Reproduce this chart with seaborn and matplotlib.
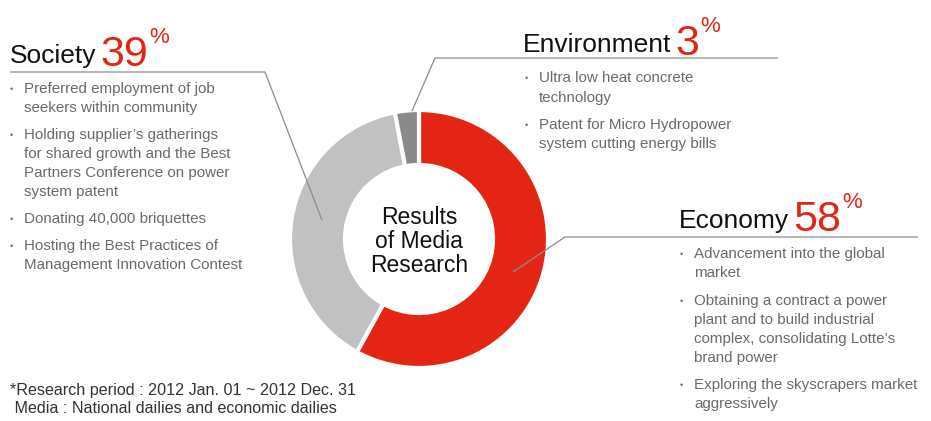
import matplotlib
matplotlib.use("Agg")
import matplotlib.pyplot as plt
import seaborn as sns

# --- data -------------------------------------------------------------
categories = ["Economy", "Society", "Environment"]
shares = [58, 39, 3]
wedge_colors = ["#e42515", "#c1c1c1", "#8a8a8a"]

center_label = ["Results", "of Media", "Research"]

society_items = [
    ["Preferred employment of job", "seekers within community"],
    ["Holding supplier\u2019s gatherings", "for shared growth and the Best",
     "Partners Conference on power", "system patent"],
    ["Donating 40,000 briquettes"],
    ["Hosting the Best Practices of", "Management Innovation Contest"],
]
environment_items = [
    ["Ultra low heat concrete", "technology"],
    ["Patent for Micro Hydropower", "system cutting energy bills"],
]
economy_items = [
    ["Advancement into the global", "market"],
    ["Obtaining a contract a power", "plant and to build industrial",
     "complex, consolidating Lotte\u2019s", "brand power"],
    ["Exploring the skyscrapers market", "aggressively"],
]
footnote = ["*Research period : 2012 Jan. 01 ~ 2012 Dec. 31",
            " Media : National dailies and economic dailies"]

# --- figure -----------------------------------------------------------
sns.set_theme(style="white")
plt.rcParams["font.family"] = ["Liberation Sans", "DejaVu Sans"]

W, H = 931, 421
fig = plt.figure(figsize=(W / 100, H / 100), dpi=100)
ax = fig.add_axes([0, 0, 1, 1])


def Y(py):
    """Convert a top-down pixel row to the axes' bottom-up coordinate."""
    return H - py


RED = "#e42515"
TEXT_GREY = "#6a6a6a"
LINE_GREY = "#8c8c8c"

# donut
cx, cy, r_out, r_in = 419, 239, 129, 74
ax.pie(shares, colors=wedge_colors, startangle=90, counterclock=False,
       radius=r_out, center=(cx, Y(cy)),
       wedgeprops=dict(width=r_out - r_in, edgecolor="white", linewidth=3))
ax.set_xlim(0, W)
ax.set_ylim(0, H)
ax.set_aspect("equal")
ax.axis("off")

for i, line in enumerate(center_label):
    ax.text(cx, Y(218 + 24 * i), line, ha="center", va="center",
            fontsize=16.5, color="#111111")

# leader lines
leaders = [
    [(10, 72), (265, 72), (322, 220)],      # society
    [(778, 58), (435, 58), (412, 111)],     # environment
    [(918, 237), (565, 237), (513, 272)],   # economy
]
for pts in leaders:
    xs = [p[0] for p in pts]
    ys = [Y(p[1]) for p in pts]
    ax.plot(xs, ys, color=LINE_GREY, lw=0.9, solid_capstyle="butt")

renderer = fig.canvas.get_renderer()


def heading(x, baseline, name, share):
    t = ax.text(x, Y(baseline), name, fontsize=19, color="#111111",
                ha="left", va="baseline")
    x1 = t.get_window_extent(renderer).x1
    n = ax.text(x1 + 4, Y(baseline + 3), str(share), fontsize=31, color=RED,
                ha="left", va="baseline")
    x2 = n.get_window_extent(renderer).x1
    ax.text(x2 + 1, Y(baseline - 20), "%", fontsize=16, color=RED,
            ha="left", va="baseline")


def bullets(x_dot, x_text, baselines, items):
    k = 0
    for item in items:
        ax.text(x_dot, Y(baselines[k] - 1), "\u2022", fontsize=6.5,
                color=TEXT_GREY, ha="left", va="baseline")
        for line in item:
            ax.text(x_text, Y(baselines[k]), line, fontsize=10.9,
                    color=TEXT_GREY, ha="left", va="baseline")
            k += 1


heading(10, 63, categories[1], shares[1])
heading(523, 52, categories[2], shares[2])
heading(679, 228, categories[0], shares[0])

bullets(10, 24, [93, 112, 139, 158, 177, 196, 223, 250, 269], society_items)
bullets(525, 539, [82, 102, 129, 148], environment_items)
bullets(680, 694, [258, 277, 305, 324, 343, 362, 389, 408], economy_items)

for i, line in enumerate(footnote):
    ax.text(10, Y(395 + 18 * i), line, fontsize=11.6, color="#333333",
            ha="left", va="baseline")

fig.savefig("out.png", dpi=100)
